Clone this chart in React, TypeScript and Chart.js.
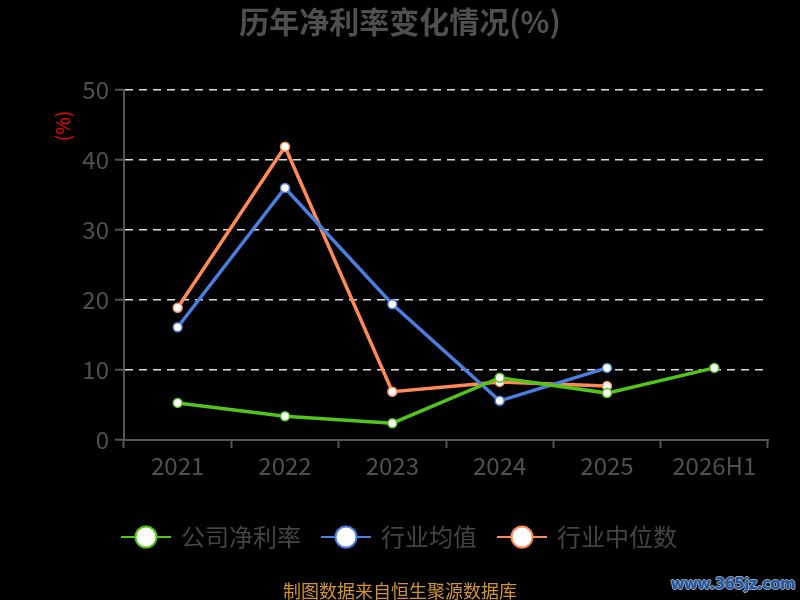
import React, { useEffect, useRef } from "react";
import { Chart, registerables } from "chart.js";

Chart.register(...registerables);

const categories = ["2021", "2022", "2023", "2024", "2025", "2026H1"];
const companyNetMargin = [5.3, 3.4, 2.4, 8.9, 6.7, 10.3];
const industryAverage = [16.1, 36.0, 19.4, 5.6, 10.3, null];
const industryMedian = [18.9, 41.9, 6.9, 8.3, 7.7, null];
const yTicks = [0, 10, 20, 30, 40, 50];

const GREEN = "#52c41a";
const BLUE = "#4a7fe0";
const ORANGE = "#ff8a55";
const FONT = "'Noto Sans CJK SC', 'Noto Sans', sans-serif";

function legendIcon(color: string): HTMLCanvasElement {
  const c = document.createElement("canvas");
  c.width = 50;
  c.height = 26;
  const ctx = c.getContext("2d")!;
  ctx.strokeStyle = color;
  ctx.lineWidth = 2;
  ctx.beginPath();
  ctx.moveTo(0, 13);
  ctx.lineTo(50, 13);
  ctx.stroke();
  ctx.beginPath();
  ctx.arc(25, 13, 10.5, 0, Math.PI * 2);
  ctx.fillStyle = "#ffffff";
  ctx.fill();
  ctx.lineWidth = 2;
  ctx.stroke();
  return c;
}

const yTitlePlugin = {
  id: "yTitlePlugin",
  afterDraw(chart: any) {
    const ctx = chart.ctx;
    ctx.save();
    ctx.translate(63, 126);
    ctx.rotate(-Math.PI / 2);
    ctx.fillStyle = "#ff0000";
    ctx.font = `19px ${FONT}`;
    ctx.textAlign = "center";
    ctx.textBaseline = "middle";
    ctx.fillText("(%)", 0, 0);
    ctx.restore();
  },
};

export default function App() {
  const ref = useRef<HTMLCanvasElement>(null);

  useEffect(() => {
    document.body.style.margin = "0";
    document.body.style.background = "#000";
    const icons = [legendIcon(GREEN), legendIcon(BLUE), legendIcon(ORANGE)];
    const mk = (label: string, data: (number | null)[], color: string) => ({
      label,
      data,
      borderColor: color,
      backgroundColor: color,
      borderWidth: 3.5,
      pointRadius: 4.5,
      pointBorderWidth: 1.5,
      pointBackgroundColor: "#ffffff",
      pointBorderColor: color,
      tension: 0,
      spanGaps: false,
    });
    const chart = new Chart(ref.current!, {
      type: "line",
      data: {
        labels: categories,
        datasets: [
          mk("公司净利率", companyNetMargin, GREEN),
          mk("行业均值", industryAverage, BLUE),
          mk("行业中位数", industryMedian, ORANGE),
        ],
      },
      options: {
        animation: false,
        responsive: false,
        devicePixelRatio: 1,
        layout: { padding: { left: 32, right: 32, top: 0, bottom: 41 } },
        plugins: {
          title: {
            display: true,
            text: "历年净利率变化情况(%)",
            color: "#4f4f4f",
            font: { size: 30, weight: "bold", family: FONT },
            padding: { top: 4, bottom: 50 },
          },
          legend: {
            display: true,
            position: "bottom",
            labels: {
              usePointStyle: true,
              pointStyleWidth: 46,
              boxWidth: 46,
              boxHeight: 24,
              padding: 22,
              color: "#444444",
              font: { size: 24, family: FONT },
              generateLabels: (ch: any) =>
                ch.data.datasets.map((ds: any, i: number) => ({
                  text: ds.label,
                  pointStyle: icons[i],
                  fillStyle: "#fff",
                  strokeStyle: ds.borderColor,
                  lineWidth: 0,
                  hidden: false,
                  datasetIndex: i,
                  fontColor: "#444444",
                })),
            },
          },
          tooltip: { enabled: false },
        },
        scales: {
          x: {
            type: "category",
            offset: true,
            afterFit: (s: any) => {
              s.height = 63;
            },
            grid: {
              display: true,
              drawOnChartArea: false,
              drawTicks: true,
              tickLength: 8,
              tickColor: "#555555",
              tickWidth: 2,
              offset: true,
            },
            border: { display: true, color: "#555555", width: 2 },
            ticks: {
              color: "#505050",
              font: { size: 24, family: FONT },
              padding: 3,
              maxRotation: 0,
              autoSkip: false,
            },
          },
          y: {
            min: 0,
            max: 50,
            afterFit: (s: any) => {
              s.width = 92;
            },
            afterBuildTicks: (s: any) => {
              s.ticks = yTicks.map((v) => ({ value: v }));
            },
            grid: {
              display: true,
              drawOnChartArea: true,
              drawTicks: true,
              tickLength: 9,
              tickColor: "#555555",
              tickWidth: 2,
              tickBorderDash: [],
              color: (c: any) => (c.tick && c.tick.value === 0 ? "rgba(0,0,0,0)" : "#dddddd"),
              lineWidth: 1.5,
            },
            border: { display: true, color: "#555555", width: 2, dash: [8, 6] },
            ticks: {
              color: "#505050",
              font: { size: 24, family: FONT },
              padding: 6,
              stepSize: 10,
            },
          },
        },
      } as any,
      plugins: [yTitlePlugin],
    });
    return () => chart.destroy();
  }, []);

  return (
    <div style={{ position: "relative", width: 800, height: 600, background: "#000", overflow: "hidden" }}>
      <canvas ref={ref} width={800} height={600} style={{ display: "block", width: 800, height: 600 }} />
      <div
        style={{
          position: "absolute",
          left: 0,
          width: 800,
          top: 578,
          textAlign: "center",
          color: "#d4952b",
          fontFamily: FONT,
          fontSize: 18,
          lineHeight: "24px",
        }}
      >
        制图数据来自恒生聚源数据库
      </div>
      <div
        style={{
          position: "absolute",
          right: 5,
          top: 572,
          color: "#24579c",
          fontFamily: "'DejaVu Sans', sans-serif",
          fontWeight: "bold",
          fontSize: 15,
          letterSpacing: "-0.6px",
          lineHeight: "24px",
          textShadow:
            "1px 0 0 #8fa3c0, -1px 0 0 #8fa3c0, 0 1px 0 #8fa3c0, 0 -1px 0 #8fa3c0",
        }}
      >
        www.365jz.com
      </div>
    </div>
  );
}
